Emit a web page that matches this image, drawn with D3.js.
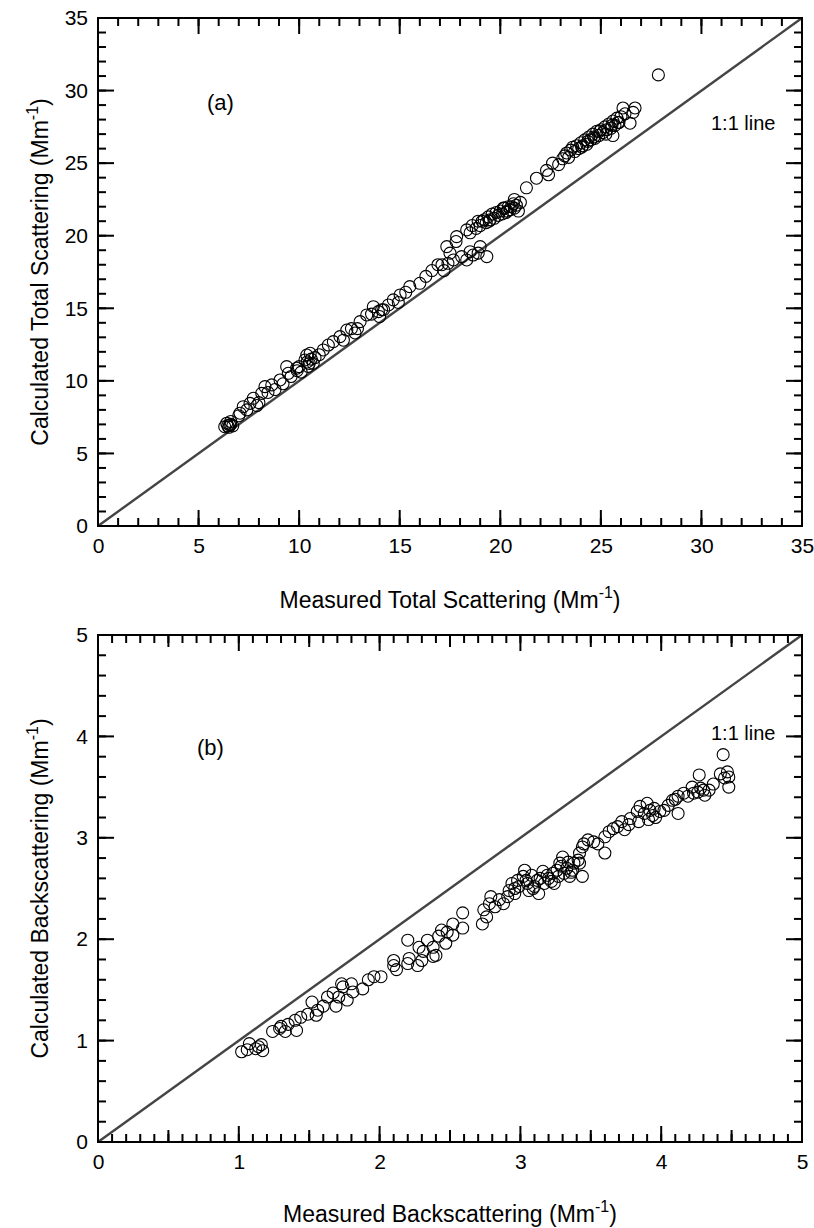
<!DOCTYPE html>
<html>
<head>
<meta charset="utf-8">
<script src="https://cdn.jsdelivr.net/npm/d3@7/dist/d3.min.js"></script>
</head>
<body style="margin:0">
<script>
// Panel (a): total scattering, Mm-1
var totalMeasured = [6.3, 6.4, 6.55, 6.5, 6.7, 6.6, 6.45, 7.06, 7.22, 7.0, 7.4, 7.56, 7.72, 7.9, 8.14, 8.0,
    8.3, 8.45, 8.64, 8.8, 9.05, 9.2, 9.46, 9.38, 9.6, 9.88, 10.0, 10.1, 10.29, 10.38, 10.5, 10.45, 10.6,
    10.55, 10.79, 11.0, 11.2, 11.45, 11.7, 12.03, 12.2, 12.37, 12.6, 12.78, 13.03, 13.36, 13.6, 13.69,
    13.94, 14.0, 14.2, 14.44, 14.68, 14.93, 15.02, 15.3, 15.5, 16.0, 16.3, 16.6, 16.9, 17.2, 17.4, 17.34,
    17.5, 17.67, 17.8, 17.83, 18.08, 18.33, 18.5, 18.65, 18.9, 19.0, 19.33, 18.33, 18.5, 18.6, 18.8, 18.9,
    19.0, 19.2, 19.3, 19.4, 19.5, 19.6, 19.7, 19.8, 19.9, 20.0, 20.1, 20.2, 20.3, 20.4, 20.5, 20.65, 20.7,
    20.8, 20.7, 21.3, 21.8, 22.3, 22.6, 22.4, 22.9, 23.1, 23.3, 23.4, 23.6, 23.5, 23.7, 23.8, 23.9, 24.0,
    24.1, 24.2, 24.3, 24.4, 24.5, 24.6, 24.7, 24.8, 24.9, 25.0, 25.1, 25.2, 25.3, 25.4, 25.5, 25.6, 25.7,
    25.8, 25.9, 26.0, 25.6, 26.1, 26.45, 26.7, 26.6, 27.86,
    6.6, 9.9, 10.4, 10.7, 12.9, 14.1, 17.1, 19.1, 19.45, 20.15, 20.35, 20.55, 20.9, 21.0, 23.2, 24.05,
    24.35, 24.65, 24.95, 25.25, 25.55, 25.85, 26.2];
var totalCalculated = [6.84, 7.08, 6.95, 6.8, 6.9, 7.2, 6.9, 7.77, 8.22, 7.6, 8.0, 8.45, 8.8, 8.3, 9.14, 8.5,
    9.6, 9.2, 9.72, 9.4, 10.06, 9.8, 10.52, 10.98, 10.3, 10.87, 10.98, 10.6, 11.44, 11.78, 11.2, 11.0, 11.5,
    11.9, 11.6, 11.8, 12.13, 12.47, 12.7, 13.05, 12.8, 13.5, 13.6, 13.3, 14.08, 14.54, 14.6, 15.11,
    14.77, 14.43, 14.9, 15.23, 15.58, 15.4, 15.92, 16.1, 16.49, 16.72, 17.2, 17.6, 18.0, 17.6, 18.1, 19.25,
    18.8, 18.33, 19.6, 19.94, 18.56, 18.33, 18.9, 18.67, 18.8, 19.25, 18.56, 20.4, 20.2, 20.7, 20.5, 21.0,
    20.7, 21.1, 20.9, 21.3, 21.1, 21.5, 21.2, 21.6, 21.4, 21.7, 21.5, 21.9, 21.6, 22.0, 21.8, 22.2, 21.9,
    22.1, 22.5, 23.3, 23.96, 24.5, 25.0, 24.2, 24.9, 25.3, 25.7, 25.4, 26.1, 25.9, 25.8, 26.2, 26.0, 26.4,
    26.2, 26.6, 26.3, 26.8, 26.6, 27.0, 26.7, 27.2, 26.9, 27.3, 27.1, 27.5, 27.3, 27.7, 27.4, 27.9, 27.6,
    28.1, 27.8, 28.2, 26.9, 28.8, 27.75, 28.8, 28.5, 31.08,
    7.0, 10.7, 11.3, 11.2, 13.6, 14.9, 18.0, 21.0, 21.0, 21.9, 21.7, 22.0, 21.7, 22.3, 25.5, 26.1,
    26.5, 26.8, 27.2, 27.0, 27.6, 27.8, 28.4];

// Panel (b): backscattering, Mm-1
var backMeasured = [1.02, 1.075, 1.12, 1.17, 1.16, 1.14, 1.24, 1.30, 1.33, 1.35, 1.41, 1.40, 1.44, 1.49,
    1.55, 1.56, 1.60, 1.63, 1.67, 1.69, 1.71, 1.74, 1.77, 1.80, 1.81, 1.88, 1.92, 1.96, 2.01, 2.10, 2.10,
    2.12, 2.20, 2.20, 2.21, 2.27, 2.28, 2.30, 2.31, 2.34, 2.38, 2.40, 2.38, 2.42, 2.44, 2.47, 2.48, 2.52,
    2.52, 2.59, 2.59, 2.73, 2.74, 2.76, 2.78, 2.79, 2.82, 2.85, 2.88, 2.91, 2.92, 2.94, 2.96, 2.98, 2.99,
    3.02, 3.03, 3.05, 3.06, 3.08, 3.10, 3.12, 3.13, 3.16, 3.17, 3.20, 3.23, 3.24, 3.26, 3.27, 3.28, 3.30,
    3.31, 3.33, 3.34, 3.35, 3.37, 3.38, 3.41, 3.42, 3.44, 3.44, 3.42, 3.45, 3.48, 3.52, 3.55, 3.60, 3.60,
    3.63, 3.66, 3.69, 3.72, 3.74, 3.77, 3.78, 3.83, 3.84, 3.85, 3.88, 3.90, 3.91, 3.92, 3.95, 3.96, 3.99,
    4.02, 4.05, 4.08, 4.12, 4.12, 4.16, 4.19, 4.22, 4.23, 4.26, 4.27, 4.28, 4.31, 4.34, 4.37, 4.42, 4.44,
    4.45, 4.48, 4.48, 4.47,
    1.06, 1.29, 1.52, 1.73, 2.96, 3.04, 3.09, 3.14, 3.19, 3.22, 3.29, 3.36, 3.94, 4.10, 4.30];
var backCalculated = [0.89, 0.97, 0.92, 0.90, 0.96, 0.94, 1.09, 1.14, 1.09, 1.16, 1.10, 1.20, 1.23, 1.26,
    1.25, 1.30, 1.34, 1.43, 1.47, 1.34, 1.43, 1.53, 1.40, 1.56, 1.48, 1.51, 1.60, 1.63, 1.63, 1.74, 1.79,
    1.70, 1.76, 1.99, 1.81, 1.74, 1.92, 1.79, 1.88, 1.99, 1.83, 1.84, 1.92, 2.03, 2.09, 1.96, 2.07, 2.15,
    2.04, 2.11, 2.26, 2.15, 2.29, 2.22, 2.35, 2.42, 2.32, 2.39, 2.35, 2.42, 2.48, 2.55, 2.45, 2.58, 2.52,
    2.62, 2.68, 2.55, 2.48, 2.63, 2.52, 2.58, 2.45, 2.67, 2.55, 2.60, 2.65, 2.55, 2.68, 2.62, 2.75, 2.81,
    2.65, 2.70, 2.76, 2.62, 2.68, 2.75, 2.78, 2.85, 2.62, 2.91, 2.75, 2.94, 2.98, 2.96, 2.94, 2.85, 3.01,
    3.06, 3.09, 3.11, 3.16, 3.08, 3.13, 3.19, 3.26, 3.16, 3.31, 3.24, 3.34, 3.18, 3.27, 3.29, 3.20, 3.26,
    3.27, 3.32, 3.37, 3.24, 3.41, 3.44, 3.41, 3.50, 3.44, 3.45, 3.62, 3.49, 3.42, 3.47, 3.53, 3.63, 3.82,
    3.59, 3.60, 3.50, 3.65,
    0.91, 1.12, 1.38, 1.56, 2.50, 2.58, 2.50, 2.60, 2.63, 2.57, 2.72, 2.66, 3.22, 3.38, 3.47];

var totalTicks = [0, 5, 10, 15, 20, 25, 30, 35];
var backTicks = [0, 1, 2, 3, 4, 5];

var font = "Liberation Sans, Arial, Helvetica, sans-serif";

var svg = d3.select("body").append("svg")
    .attr("width", 814)
    .attr("height", 1228)
    .attr("font-family", font);

var panels = [];

function drawPanel(o) {
    var x = d3.scaleLinear().domain([0, o.max]).range([o.left, o.right]),
        y = d3.scaleLinear().domain([0, o.max]).range([o.bottom, o.top]),
        g = svg.append("g");
    panels.push({ o: o, x: x, y: y });

    // frame
    g.append("rect")
        .attr("x", o.left)
        .attr("y", o.top)
        .attr("width", o.right - o.left)
        .attr("height", o.bottom - o.top)
        .attr("fill", "none")
        .attr("stroke", "#000")
        .attr("stroke-width", 2);

    // tick labels through the axis generators
    var xa = g.append("g").attr("transform", "translate(0," + o.bottom + ")")
        .call(d3.axisBottom(x).tickValues(o.ticks).tickFormat(d3.format("d")).tickSize(0).tickPadding(12));
    var ya = g.append("g").attr("transform", "translate(" + o.left + ",0)")
        .call(d3.axisLeft(y).tickValues(o.ticks).tickFormat(d3.format("d")).tickSize(0).tickPadding(10));
    [xa, ya].forEach(function (a) {
        a.attr("font-family", font);
        a.select(".domain").remove();
        a.selectAll("line").remove();
        a.selectAll("text").attr("font-size", 21).attr("fill", "#000");
    });

    // 1:1 line
    g.append("line")
        .attr("x1", x(0)).attr("y1", y(0))
        .attr("x2", x(o.max)).attr("y2", y(o.max))
        .attr("stroke", "#444")
        .attr("stroke-width", 2.4);

    g.selectAll("circle.pt")
        .data(o.xs.map(function (v, i) { return [v, o.ys[i]]; }))
        .enter().append("circle")
        .attr("class", "pt")
        .attr("cx", function (d) { return x(d[0]); })
        .attr("cy", function (d) { return y(d[1]); })
        .attr("r", 6)
        .attr("fill", "none")
        .attr("stroke", "#000")
        .attr("stroke-width", 1.1);

    g.append("text")
        .attr("x", o.tagX).attr("y", o.tagY)
        .attr("font-size", 22)
        .text(o.tag);

    g.append("text")
        .attr("x", o.lineX).attr("y", o.lineY)
        .attr("font-size", 20)
        .text("1:1 line");

    function unitLabel(t, main) {
        t.append("tspan").text(main + " (Mm");
        t.append("tspan").attr("dy", -10).attr("font-size", 16).text("-1");
        t.append("tspan").attr("dy", 10).text(")");
    }

    var xt = g.append("text")
        .attr("x", (o.left + o.right) / 2)
        .attr("y", o.xTitleY)
        .attr("text-anchor", "middle")
        .attr("font-size", 23);
    unitLabel(xt, o.xTitle);

    var yt = g.append("text")
        .attr("transform", "translate(" + o.yTitleX + "," + (o.top + o.bottom) / 2 + ") rotate(-90)")
        .attr("text-anchor", "middle")
        .attr("font-size", 23);
    unitLabel(yt, o.yTitle);
}

// inward ticks on all four sides, drawn last on top of everything
function drawTicks(pn) {
    var o = pn.o, x = pn.x, y = pn.y;
    [[o.xMinor, o.yMinor, 8], [o.xMid, o.yMid, 12], [o.ticks, o.ticks, 16]].forEach(function (lv) {
        var len = lv[2];
        lv[0].forEach(function (d) {
            svg.append("line").attr("x1", x(d)).attr("x2", x(d))
                .attr("y1", o.bottom).attr("y2", o.bottom - len)
                .attr("stroke", "#000").attr("stroke-width", 2);
            svg.append("line").attr("x1", x(d)).attr("x2", x(d))
                .attr("y1", o.top).attr("y2", o.top + len)
                .attr("stroke", "#000").attr("stroke-width", 2);
        });
        lv[1].forEach(function (d) {
            svg.append("line").attr("y1", y(d)).attr("y2", y(d))
                .attr("x1", o.left).attr("x2", o.left + len)
                .attr("stroke", "#000").attr("stroke-width", 2);
            svg.append("line").attr("y1", y(d)).attr("y2", y(d))
                .attr("x1", o.right).attr("x2", o.right - len)
                .attr("stroke", "#000").attr("stroke-width", 2);
        });
    });
}

drawPanel({
    left: 98, right: 802, top: 18, bottom: 526, max: 35,
    ticks: totalTicks,
    xMinor: d3.range(0, 36, 1), xMid: [],
    yMinor: d3.range(0, 36, 1), yMid: [],
    xs: totalMeasured, ys: totalCalculated,
    tag: "(a)", tagX: 207, tagY: 110,
    lineX: 711, lineY: 130,
    xTitle: "Measured Total Scattering", xTitleY: 608,
    yTitle: "Calculated Total Scattering", yTitleX: 48
});

drawPanel({
    left: 98, right: 802, top: 635, bottom: 1142, max: 5,
    ticks: backTicks,
    xMinor: d3.range(0, 51, 1).map(function (d) { return d / 10; }),
    xMid: [0.5, 1.5, 2.5, 3.5, 4.5],
    yMinor: d3.range(0, 26, 1).map(function (d) { return d / 5; }), yMid: [],
    xs: backMeasured, ys: backCalculated,
    tag: "(b)", tagX: 197, tagY: 755,
    lineX: 711, lineY: 740,
    xTitle: "Measured Backscattering", xTitleY: 1222,
    yTitle: "Calculated Backscattering", yTitleX: 48
});

panels.forEach(drawTicks);
</script>
</body>
</html>
